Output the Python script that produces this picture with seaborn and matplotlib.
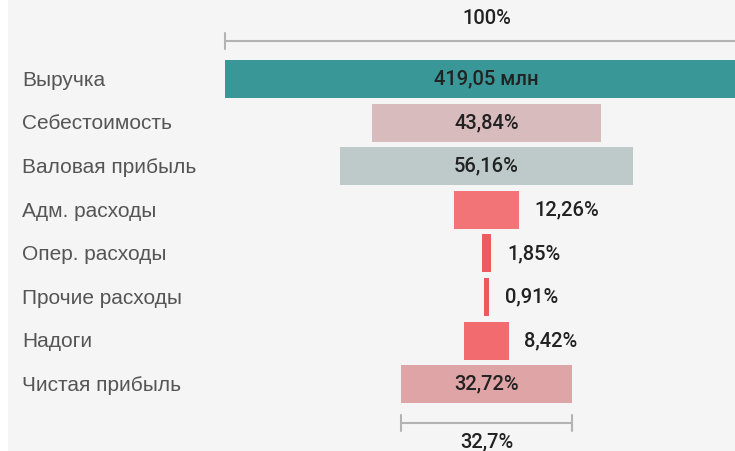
import matplotlib
matplotlib.use("Agg")
import matplotlib.pyplot as plt
import matplotlib.transforms as mtransforms
from matplotlib.patches import Rectangle
import seaborn as sns
import pandas as pd

# ---- data ----
categories = ["Выручка", "Себестоимость", "Валовая прибыль", "Адм. расходы",
              "Опер. расходы", "Прочие расходы", "Надоги", "Чистая прибыль"]
shares = [100.0, 43.84, 56.16, 12.26, 1.85, 0.91, 8.42, 32.72]
value_labels = ["419,05 млн", "43,84%", "56,16%", "12,26%", "1,85%", "0,91%", "8,42%", "32,72%"]
label_inside = [True, True, True, False, False, False, False, True]
bar_colors = ["#3a9797", "#d8bbbc", "#bec9c9", "#f27476", "#ee5b5f", "#ea5a5e", "#f26b6e", "#dfa4a6"]
top_bracket_label = "100%"
bottom_bracket_label = "32,7%"

df = pd.DataFrame({"cat": categories, "share": shares})

W, H, DPI = 735, 451, 100
BG = "#f5f5f5"
sns.set_theme(style="white")
plt.rcParams["font.family"] = ["Liberation Sans", "DejaVu Sans"]

fig = plt.figure(figsize=(W / DPI, H / DPI), dpi=DPI, facecolor=BG)
ax = fig.add_axes([0, 0, 1, 1])
ax.set_facecolor(BG)

sns.barplot(data=df, x="share", y="cat", hue="cat", palette=bar_colors,
            orient="h", width=0.87, legend=False, ax=ax, saturation=1)

# center the bars (funnel layout)
for p in ax.patches:
    w = p.get_width()
    p.set_x(-w / 2)
    p.set_linewidth(0)

# scales: center at pixel 486.5, 100% = 523 px
cx, px_per = 486.5, 5.23
ax.set_xlim((0 - cx) / px_per, (W - cx) / px_per)
row0, row_h = 79, 43.6
ax.set_ylim((H - row0) / row_h, (0 - row0) / row_h)
ax.axis("off")

val_font = dict(family=["Roboto", "DejaVu Sans"], fontsize=14.5, weight="medium", color="#222222")
for i, (cat, v, lab, inside) in enumerate(zip(categories, shares, value_labels, label_inside)):
    ax.text(22 / W, i + 0.03, cat, transform=mtransforms.blended_transform_factory(ax.transAxes, ax.transData),
            ha="left", va="center", fontsize=15, color="#555555")
    if inside:
        ax.text(0, i, lab, ha="center", va="center", **val_font)
    else:
        ax.text(v / 2 + 3.0, i, lab, ha="left", va="center", **val_font)

# brackets
gray = "#b3b3b3"
def bracket(width, y, text, text_y):
    ax.plot([-width / 2, width / 2], [y, y], color=gray, lw=1.5, solid_capstyle="butt")
    for xe in (-width / 2, width / 2):
        ax.plot([xe, xe], [y - 0.18, y + 0.18], color=gray, lw=1.5)
    ax.text(0, text_y, text, ha="center", va="center", **val_font)

y_top = (41 - row0) / row_h
bracket(shares[0], y_top, top_bracket_label, (18 - row0) / row_h)
y_bot = (423 - row0) / row_h
bracket(shares[-1], y_bot, bottom_bracket_label, (442 - row0) / row_h)

# white strip at left edge
fig.patches.append(Rectangle((0, 0), 8 / W, 1, transform=fig.transFigure,
                             facecolor="white", edgecolor="none", zorder=-1))
fig.savefig("out.png", dpi=DPI, facecolor=BG)
